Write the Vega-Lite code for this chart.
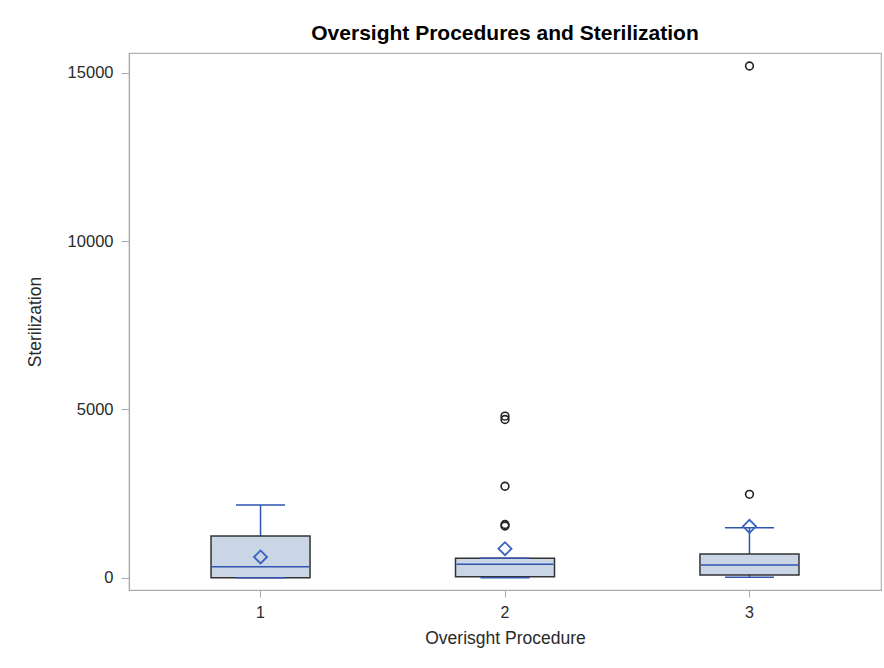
{
  "$schema": "https://vega.github.io/schema/vega-lite/v6.json",
  "autosize": "none",
  "width": 752,
  "height": 537,
  "padding": {"left": 129, "top": 53, "right": 3, "bottom": 78},
  "background": "white",
  "title": {
    "text": "Oversight Procedures and Sterilization",
    "font": "Liberation Sans",
    "fontSize": 21,
    "fontWeight": "bold",
    "color": "#000000",
    "anchor": "middle",
    "offset": 9
  },
  "datasets": {
    "stats": [
      {"procedure": "1", "lower": 0, "q1": 0, "median": 327, "q3": 1239, "upper": 2160, "mean": 615},
      {"procedure": "2", "lower": 0, "q1": 30, "median": 398, "q3": 577, "upper": 580, "mean": 862},
      {"procedure": "3", "lower": 10, "q1": 80, "median": 377, "q3": 704, "upper": 1486, "mean": 1525}
    ],
    "outliers": [
      {"procedure": "2", "value": 4800},
      {"procedure": "2", "value": 4700},
      {"procedure": "2", "value": 2716},
      {"procedure": "2", "value": 1580},
      {"procedure": "2", "value": 1535},
      {"procedure": "3", "value": 2478},
      {"procedure": "3", "value": 15207}
    ]
  },
  "encoding": {
    "x": {
      "field": "procedure",
      "type": "nominal",
      "scale": {"domain": ["1", "2", "3"], "paddingInner": 0, "paddingOuter": 0.038},
      "axis": {
        "title": "Overisght Procedure",
        "labelAngle": 0,
        "labelFontSize": 16,
        "labelPadding": 7,
        "titleFontSize": 17.5,
        "titlePadding": 9
      }
    }
  },
  "layer": [
    {
      "data": {"name": "stats"},
      "mark": {"type": "rule", "color": "#2f55b0", "strokeWidth": 1.5},
      "encoding": {
        "y": {
          "field": "lower",
          "type": "quantitative",
          "scale": {"domain": [-366, 15593], "nice": false, "zero": false},
          "axis": {
            "title": "Sterilization",
            "values": [0, 5000, 10000, 15000],
            "format": "d",
            "labelFontSize": 16.5,
            "labelPadding": 8,
            "tickSize": 8,
            "titleFontSize": 17.5,
            "titlePadding": 23
          }
        },
        "y2": {"field": "upper"}
      }
    },
    {
      "data": {"name": "stats"},
      "mark": {"type": "bar", "size": 99, "fill": "#cad5e5", "stroke": "#333333", "strokeWidth": 1.5},
      "encoding": {
        "y": {"field": "q1", "type": "quantitative"},
        "y2": {"field": "q3"}
      }
    },
    {
      "data": {"name": "stats"},
      "mark": {"type": "tick", "size": 97, "thickness": 1.5, "color": "#2f55b0", "opacity": 1},
      "encoding": {"y": {"field": "median", "type": "quantitative"}}
    },
    {
      "data": {"name": "stats"},
      "mark": {"type": "tick", "size": 49, "thickness": 1.5, "color": "#2f55b0", "opacity": 1},
      "encoding": {"y": {"field": "lower", "type": "quantitative"}}
    },
    {
      "data": {"name": "stats"},
      "mark": {"type": "tick", "size": 49, "thickness": 1.5, "color": "#2f55b0", "opacity": 1},
      "encoding": {"y": {"field": "upper", "type": "quantitative"}}
    },
    {
      "data": {"name": "stats"},
      "mark": {"type": "point", "shape": "diamond", "filled": false, "size": 170, "stroke": "#3a62c0", "strokeWidth": 1.8, "opacity": 1},
      "encoding": {"y": {"field": "mean", "type": "quantitative"}}
    },
    {
      "data": {"name": "outliers"},
      "mark": {"type": "point", "shape": "circle", "filled": false, "size": 60, "stroke": "#222222", "strokeWidth": 1.6, "opacity": 1},
      "encoding": {"y": {"field": "value", "type": "quantitative"}}
    }
  ],
  "config": {
    "font": "Liberation Sans",
    "view": {"stroke": "#b0b4b8", "strokeWidth": 1.2},
    "axis": {
      "grid": false,
      "domainColor": "#a8acb0",
      "domainWidth": 1.2,
      "tickColor": "#a8acb0",
      "tickSize": 7,
      "labelColor": "#2a2a2a",
      "titleColor": "#2a2a2a",
      "titleFontWeight": "normal",
      "labelFont": "Liberation Sans",
      "titleFont": "Liberation Sans"
    }
  }
}
